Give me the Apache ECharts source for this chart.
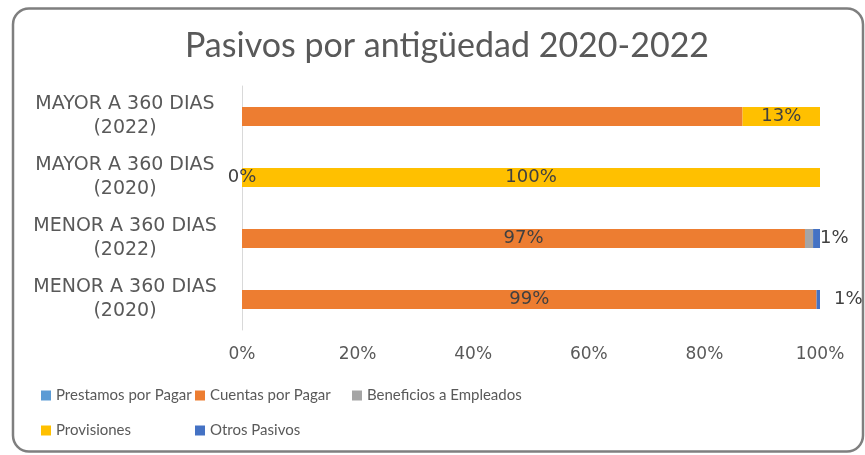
<!DOCTYPE html>
<html>
<head>
<meta charset="utf-8">
<script src="https://cdn.jsdelivr.net/npm/echarts@6/dist/echarts.min.js"></script>
<style>
  html, body { margin: 0; padding: 0; background: #fff; }
  #main { width: 865px; height: 455px; }
</style>
</head>
<body>
<div id="main"></div>
<script>
// categorias de abajo hacia arriba
var categorias = [
  'MENOR A 360 DIAS\n(2020)',
  'MENOR A 360 DIAS\n(2022)',
  'MAYOR A 360 DIAS\n(2020)',
  'MAYOR A 360 DIAS\n(2022)'
];
var nombresSeries = ['Prestamos por Pagar', 'Cuentas por Pagar', 'Beneficios a Empleados', 'Provisiones', 'Otros Pasivos'];
var prestamos   = [0, 0, 0, 0];
var cuentas     = [99.4, 97.4, 0, 86.6];
var beneficios  = [0, 1.4, 0, 0];
var provisiones = [0, 0, 100, 13.4];
var otros       = [0.6, 1.2, 0, 0];
var ticks = [0, 20, 40, 60, 80, 100];

var valores = [prestamos, cuentas, beneficios, provisiones, otros];
var colores = ['#5B9BD5', '#ED7D31', '#A5A5A5', '#FFC000', '#4472C4'];
var fuenteTitulo = 'Lato, "Noto Sans", sans-serif';
var fuenteEjes = '"DejaVu Sans", sans-serif';

// que etiquetas se ven (serie -> indice -> ajustes)
var etiquetas = {
  1: { 0: { position: 'inside' }, 1: { position: 'inside' }, 2: { position: 'inside' } },
  3: { 2: { position: 'inside' }, 3: { position: 'inside' } },
  4: { 0: { position: 'right', distance: 14 }, 1: { position: 'right', distance: 0 } }
};

var dom = document.getElementById('main');
var myChart = echarts.init(dom);

var series = nombresSeries.map(function (nombre, s) {
  return {
    name: nombre,
    type: 'bar',
    stack: 'total',
    barWidth: 19,
    itemStyle: { color: colores[s] },
    data: valores[s].map(function (v, i) {
      var e = etiquetas[s] && etiquetas[s][i];
      var item = { value: v };
      if (e) {
        item.label = {
          show: true,
          position: e.position,
          distance: e.distance == null ? 5 : e.distance,
          formatter: function (p) { return Math.round(p.value) + '%'; },
          color: '#404040',
          fontSize: 18,
          fontFamily: fuenteEjes
        };
      }
      return item;
    })
  };
});

var posLeyenda = [[41, 388], [195, 388], [352, 388], [41, 423], [195, 423]];
var leyendas = nombresSeries.map(function (nombre, s) {
  return {
    data: [nombre],
    left: posLeyenda[s][0],
    top: posLeyenda[s][1],
    icon: 'rect',
    itemWidth: 10,
    itemHeight: 10,
    padding: 0,
    textStyle: { color: '#595959', fontSize: 15, fontFamily: fuenteTitulo }
  };
});

var option = {
  animation: false,
  backgroundColor: '#fff',
  graphic: [{
    type: 'rect',
    shape: { x: 13, y: 8.5, width: 850, height: 443, r: 16 },
    style: { fill: 'none', stroke: '#7f7f7f', lineWidth: 2.5 }
  }],
  title: {
    text: 'Pasivos por antigüedad 2020-2022',
    left: 180,
    top: 24,
    textStyle: { color: '#595959', fontSize: 34, fontWeight: 'normal', fontFamily: fuenteTitulo }
  },
  legend: leyendas,
  grid: { left: 242, right: 45, top: 86, bottom: 125 },
  xAxis: {
    type: 'value',
    min: ticks[0],
    max: ticks[ticks.length - 1],
    interval: 20,
    axisLine: { show: false },
    axisTick: { show: false },
    splitLine: { show: false },
    axisLabel: { formatter: '{value}%', color: '#595959', fontSize: 17, margin: 16, fontFamily: fuenteEjes }
  },
  yAxis: {
    type: 'category',
    data: categorias,
    axisLine: { show: true, lineStyle: { color: '#d9d9d9', width: 1 } },
    axisTick: { show: false },
    axisLabel: { color: '#595959', fontSize: 19, lineHeight: 24, align: 'center', margin: 117, fontFamily: fuenteEjes }
  },
  series: series
};

myChart.setOption(option);
</script>
</body>
</html>
